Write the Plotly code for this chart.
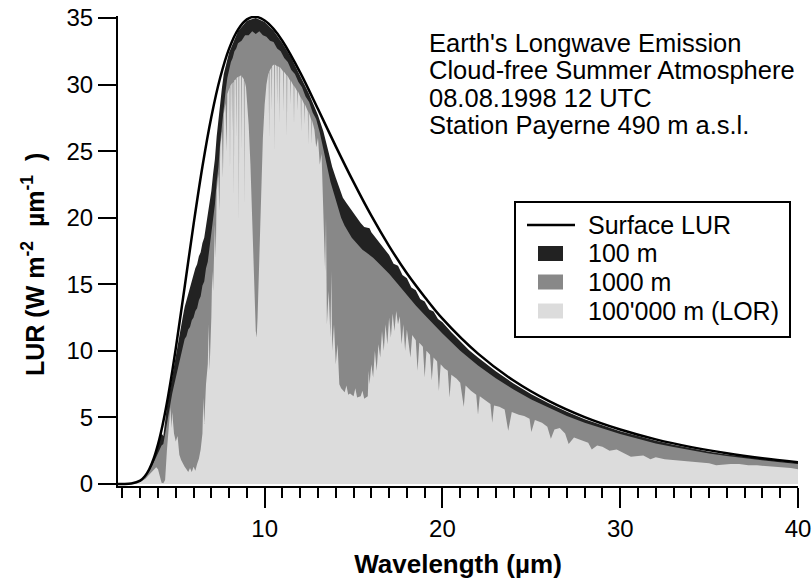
import plotly.graph_objects as go

# Upward longwave radiance spectra (W m-2 um-1) versus wavelength (um)

# Surface emission (smooth)
lur_surface = [
    (1.75, 0.0), (2.0, 0.0), (2.5, 0.03), (3.0, 0.25), (3.25, 0.56), (3.5, 1.09),
    (3.75, 1.88), (4.0, 2.98), (4.25, 4.38), (4.5, 6.08), (4.75, 8.04), (5.0, 10.19),
    (5.5, 14.81), (6.0, 19.5), (6.5, 23.85), (7.0, 27.57), (7.5, 30.53), (8.0, 32.7),
    (8.5, 34.13), (9.0, 34.9), (9.5, 35.09), (10.0, 34.81), (10.5, 34.18), (11.0, 33.27),
    (12.0, 30.9), (13.0, 28.16), (14.0, 25.36), (15.0, 22.67), (16.0, 20.15),
    (17.0, 17.87), (18.0, 15.83), (19.0, 14.05), (20.0, 12.42), (22.0, 9.79),
    (24.0, 7.77), (26.0, 6.22), (28.0, 5.02), (30.0, 4.09), (32.0, 3.35), (34.0, 2.77),
    (36.0, 2.31), (38.0, 1.94), (40.0, 1.64),
]

# Radiance reaching 100 m
lur_100m = [
    (1.75, 0.0), (2.0, 0.0), (2.5, 0.03), (3.0, 0.24), (3.5, 1.05), (3.75, 1.8),
    (4.0, 2.85), (4.2, 3.8), (4.3, 3.6), (4.4, 4.9), (4.5, 5.8), (4.75, 7.7),
    (5.0, 9.7), (5.1, 10.5), (5.2, 11.2), (5.3, 12.0), (5.4, 12.6), (5.5, 13.3),
    (5.6, 13.8), (5.7, 14.1), (5.8, 14.8), (5.9, 15.3), (6.0, 15.7), (6.1, 16.2),
    (6.2, 16.5), (6.3, 17.1), (6.4, 17.4), (6.5, 18.1), (6.6, 18.5), (6.7, 19.4),
    (6.8, 20.1), (6.9, 21.1), (7.0, 22.0), (7.1, 23.3), (7.2, 24.4), (7.3, 26.1),
    (7.4, 27.5), (7.5, 28.9), (7.6, 29.8), (7.7, 30.8), (7.8, 31.4), (7.9, 32.0),
    (8.0, 32.4), (8.5, 34.0), (9.0, 34.8), (9.5, 35.0), (10.0, 34.7), (10.5, 34.05),
    (11.0, 33.1), (11.5, 32.0), (12.0, 30.7), (12.5, 29.3), (13.0, 27.7), (13.3, 26.5),
    (13.6, 24.9), (13.8, 23.8), (14.0, 23.0), (14.2, 22.2), (14.4, 21.5), (14.6, 21.1),
    (14.8, 20.7), (15.0, 20.3), (15.2, 19.95), (15.4, 19.6), (15.6, 19.3), (15.8, 19.25),
    (15.9, 19.2), (16.0, 18.9), (16.3, 18.4), (16.6, 17.9), (17.0, 17.2), (17.25, 16.55),
    (17.5, 16.4), (17.75, 15.7), (18.0, 15.45), (18.25, 14.75), (18.5, 14.55),
    (18.75, 13.9), (19.0, 13.7), (19.25, 13.1), (19.5, 12.95), (19.75, 12.4),
    (20.0, 12.15), (20.5, 11.4), (21.0, 10.75), (21.5, 10.05), (22.0, 9.5), (23.0, 8.47),
    (24.0, 7.55), (25.0, 6.75), (26.0, 6.04), (27.0, 5.42), (28.0, 4.87), (29.0, 4.39),
    (30.0, 3.96), (31.0, 3.6), (32.0, 3.24), (33.0, 2.95), (34.0, 2.67), (35.0, 2.43),
    (36.0, 2.22), (37.0, 2.04), (38.0, 1.87), (39.0, 1.72), (40.0, 1.58),
]

# Radiance reaching 1000 m
lur_1000m = [
    (1.75, 0.0), (2.0, 0.0), (2.5, 0.03), (3.0, 0.22), (3.5, 0.95), (3.75, 1.6),
    (4.0, 2.4), (4.1, 2.6), (4.2, 2.9), (4.3, 3.0), (4.4, 3.8), (4.5, 4.6),
    (4.6, 5.4), (4.7, 6.2), (4.8, 6.8), (4.9, 7.4), (5.0, 8.0), (5.1, 8.5),
    (5.2, 9.1), (5.3, 9.7), (5.4, 10.2), (5.5, 10.9), (5.6, 11.1), (5.7, 11.6),
    (5.8, 11.8), (5.9, 12.3), (6.0, 12.5), (6.1, 13.0), (6.2, 13.2), (6.3, 13.8),
    (6.4, 14.1), (6.5, 14.9), (6.6, 15.2), (6.7, 16.2), (6.8, 16.7), (6.9, 17.8),
    (7.0, 18.5), (7.1, 20.0), (7.2, 21.0), (7.3, 22.7), (7.4, 23.8), (7.5, 25.7),
    (7.6, 27.0), (7.7, 28.6), (7.8, 29.5), (7.9, 30.5), (8.0, 31.1), (8.1, 31.7),
    (8.2, 32.0), (8.3, 32.5), (8.4, 32.7), (8.5, 33.1), (8.7, 33.3), (8.9, 33.7),
    (9.1, 33.7), (9.3, 34.0), (9.5, 33.8), (9.7, 34.0), (9.9, 33.7), (10.1, 33.6),
    (10.3, 33.3), (10.5, 33.2), (10.7, 32.7), (10.9, 32.5), (11.1, 32.0), (11.3, 31.7),
    (11.5, 31.1), (11.7, 30.8), (11.9, 30.2), (12.1, 29.8), (12.3, 29.1), (12.5, 28.7),
    (12.7, 27.9), (12.9, 27.4), (13.1, 26.4), (13.3, 25.2), (13.5, 24.0), (13.7, 22.7),
    (13.9, 21.8), (14.1, 20.8), (14.3, 20.0), (14.5, 19.4), (14.7, 18.9), (14.9, 18.5),
    (15.1, 18.2), (15.3, 17.9), (15.5, 17.6), (15.7, 17.4), (15.9, 17.2), (16.1, 17.0),
    (16.4, 16.6), (16.7, 16.2), (17.0, 15.8), (17.5, 15.0), (18.0, 14.2), (18.5, 13.4),
    (19.0, 12.7), (19.5, 12.0), (20.0, 11.3), (21.0, 10.0), (22.0, 8.9), (23.0, 7.95),
    (24.0, 7.1), (25.0, 6.35), (26.0, 5.7), (27.0, 5.1), (28.0, 4.6), (29.0, 4.15),
    (30.0, 3.75), (31.0, 3.4), (32.0, 3.05), (33.0, 2.78), (34.0, 2.52), (35.0, 2.3),
    (36.0, 2.1), (37.0, 1.93), (38.0, 1.77), (39.0, 1.63), (40.0, 1.5),
]

# Outgoing radiation at 100'000 m (LOR)
lur_lor = [
    (1.75, 0.0), (2.0, 0.0), (2.5, 0.02), (3.0, 0.15), (3.3, 0.4), (3.5, 0.7),
    (3.7, 1.0), (3.9, 1.25), (4.0, 1.1), (4.1, 0.6), (4.2, 0.1), (4.3, 0.05),
    (4.4, 0.3), (4.5, 2.5), (4.6, 4.5), (4.7, 5.8), (4.75, 4.2), (4.8, 5.4),
    (4.9, 3.8), (5.0, 3.2), (5.1, 3.6), (5.2, 2.2), (5.3, 1.8), (5.4, 1.5),
    (5.5, 1.3), (5.6, 1.1), (5.7, 0.9), (5.8, 1.2), (5.9, 0.9), (6.0, 1.3),
    (6.1, 1.0), (6.2, 1.5), (6.3, 1.9), (6.4, 2.6), (6.5, 3.8), (6.55, 6.5),
    (6.6, 4.5), (6.7, 7.5), (6.8, 9.0), (6.85, 12.0), (6.9, 8.5), (7.0, 12.5),
    (7.05, 16.0), (7.1, 14.5), (7.2, 19.5), (7.25, 17.0), (7.3, 22.0), (7.4, 23.3),
    (7.45, 20.5), (7.5, 25.3), (7.6, 26.5), (7.65, 23.0), (7.7, 27.8), (7.8, 28.6),
    (7.85, 25.0), (7.9, 29.3), (8.0, 29.8), (8.03, 29.8), (8.05, 23.5), (8.07, 29.9),
    (8.15, 30.1), (8.17, 26.5), (8.19, 30.1), (8.25, 30.2), (8.27, 21.5), (8.29, 30.3),
    (8.38, 30.4), (8.4, 26.0), (8.42, 30.5), (8.53, 30.6), (8.55, 19.5), (8.57, 30.6),
    (8.68, 30.7), (8.7, 25.0), (8.72, 30.6), (8.83, 30.4), (8.85, 21.0), (8.87, 30.3),
    (8.95, 29.8), (9.0, 29.0), (9.1, 27.0), (9.2, 24.0), (9.3, 20.0), (9.4, 15.0),
    (9.5, 11.5), (9.55, 11.0), (9.6, 12.5), (9.7, 17.0), (9.8, 22.0), (9.9, 26.0),
    (10.0, 28.5), (10.1, 30.0), (10.2, 30.8), (10.23, 30.9), (10.25, 26.0), (10.27, 31.0),
    (10.38, 31.3), (10.4, 28.0), (10.42, 31.4), (10.53, 31.5), (10.55, 25.0), (10.57, 31.5),
    (10.68, 31.4), (10.7, 28.5), (10.72, 31.4), (10.83, 31.3), (10.85, 27.0), (10.87, 31.3),
    (11.03, 31.0), (11.05, 28.0), (11.07, 31.0), (11.23, 30.7), (11.25, 26.0), (11.27, 30.7),
    (11.43, 30.3), (11.45, 28.5), (11.47, 30.3), (11.63, 29.9), (11.65, 27.0), (11.67, 29.9),
    (11.83, 29.5), (11.85, 28.0), (11.87, 29.5), (12.03, 29.0), (12.05, 26.5), (12.07, 29.0),
    (12.23, 28.5), (12.25, 27.0), (12.27, 28.5), (12.43, 28.0), (12.45, 25.5), (12.47, 28.0),
    (12.63, 27.3), (12.65, 25.5), (12.67, 27.3), (12.8, 26.6), (12.9, 25.3), (13.0, 26.0),
    (13.1, 24.0), (13.2, 24.8), (13.3, 21.0), (13.4, 16.0), (13.45, 20.0), (13.5, 12.0),
    (13.6, 14.5), (13.7, 11.0), (13.75, 16.0), (13.8, 10.0), (13.9, 12.0), (14.0, 9.0),
    (14.1, 10.5), (14.2, 7.5), (14.3, 7.2), (14.5, 6.9), (14.6, 7.4), (14.7, 6.7),
    (14.8, 6.8), (15.0, 6.6), (15.1, 7.2), (15.2, 6.5), (15.4, 6.6), (15.5, 7.0),
    (15.6, 6.4), (15.8, 6.6), (15.85, 8.5), (15.9, 7.5), (16.0, 9.0), (16.1, 8.0),
    (16.2, 10.0), (16.3, 8.5), (16.4, 10.5), (16.5, 9.5), (16.6, 11.5), (16.7, 10.0),
    (16.8, 12.0), (16.9, 10.5), (17.0, 12.5), (17.1, 11.0), (17.2, 12.8), (17.3, 11.5),
    (17.4, 13.0), (17.5, 12.0), (17.6, 12.6), (17.7, 10.5), (17.8, 12.0), (17.9, 10.0),
    (18.0, 11.6), (18.2, 9.5), (18.3, 11.2), (18.5, 10.8), (18.6, 8.5), (18.7, 10.6),
    (18.9, 10.3), (19.0, 8.0), (19.1, 10.0), (19.3, 9.7), (19.4, 7.8), (19.5, 9.5),
    (19.7, 9.2), (19.8, 7.0), (19.9, 9.0), (20.1, 8.7), (20.3, 8.5), (20.4, 6.5),
    (20.5, 8.2), (20.8, 7.9), (21.0, 7.6), (21.2, 5.8), (21.3, 7.4), (21.6, 7.0),
    (21.9, 6.7), (22.0, 5.2), (22.1, 6.6), (22.4, 6.3), (22.7, 6.0), (22.8, 4.6),
    (22.9, 5.9), (23.2, 5.8), (23.5, 5.6), (23.7, 4.0), (23.9, 5.4), (24.3, 5.2),
    (24.6, 5.1), (24.9, 4.9), (25.0, 3.9), (25.2, 4.8), (25.6, 4.6), (25.9, 4.3),
    (26.1, 3.4), (26.3, 4.1), (26.6, 4.2), (26.9, 3.8), (27.1, 3.0), (27.4, 3.5),
    (27.8, 3.3), (28.2, 3.1), (28.4, 2.6), (28.7, 2.9), (29.0, 2.8), (29.4, 2.5),
    (29.8, 2.6), (30.2, 2.3), (30.6, 2.05), (31.0, 2.1), (31.3, 2.15), (31.7, 1.85),
    (32.0, 2.0), (32.5, 1.85), (33.0, 1.8), (33.5, 1.75), (34.0, 1.7), (34.5, 1.65),
    (35.0, 1.55), (35.4, 1.4), (35.8, 1.45), (36.2, 1.5), (36.7, 1.5), (37.2, 1.4),
    (37.7, 1.4), (38.2, 1.35), (38.7, 1.3), (39.2, 1.25), (39.6, 1.2), (40.0, 1.1),
]

info_lines = [
    "Earth's Longwave Emission",
    "Cloud-free Summer Atmosphere",
    "08.08.1998 12 UTC",
    "Station Payerne 490 m a.s.l.",
]

FONT = "Liberation Sans, Arial, Helvetica, sans-serif"
C_100 = "#222222"
C_1000 = "#888888"
C_LOR = "#dcdcdc"
NB = "\u00a0"

# plot-area geometry in pixels (used to place the hand-built legend)
W, H = 812, 584
ML, MR, MT, MB = 118, 14, 16, 98
PW, PH = W - ML - MR, H - MT - MB


def px(x):
    return (x - ML) / PW


def py(y):
    return (MT + PH - y) / PH


fig = go.Figure()

layers = [
    (lur_100m, C_100, "100 m"),
    (lur_1000m, C_1000, "1000 m"),
    (lur_lor, C_LOR, "100'000 m (LOR)"),
]
for data, color, name in layers:
    wl, val = zip(*data)
    fig.add_trace(go.Scatter(
        x=wl, y=val, mode="lines", line=dict(width=0, color=color), name=name,
        fill="tozeroy", fillcolor=color, showlegend=False, hoverinfo="skip",
    ))

wl_s, val_s = zip(*lur_surface)
fig.add_trace(go.Scatter(
    x=wl_s, y=val_s, mode="lines", name="Surface LUR", showlegend=False,
    line=dict(color="black", width=2.5, shape="spline"),
))

# descriptive text block
for i, txt in enumerate(info_lines):
    fig.add_annotation(
        x=px(427), y=py(43 + i * 27.5), xref="paper", yref="paper",
        xanchor="left", yanchor="middle", showarrow=False, align="left",
        text=txt, font=dict(family=FONT, size=25.5, color="black"),
    )

# legend box
shapes = [dict(type="rect", xref="paper", yref="paper", layer="above",
               x0=px(515), x1=px(790), y0=py(337), y1=py(202),
               line=dict(color="black", width=2), fillcolor="white")]
row_y = [225, 253.5, 282, 311]
shapes.append(dict(type="line", xref="paper", yref="paper", layer="above",
                   x0=px(527), x1=px(575), y0=py(row_y[0]), y1=py(row_y[0]),
                   line=dict(color="black", width=2.5)))
for (_, color, _), ry in zip(layers, row_y[1:]):
    shapes.append(dict(type="rect", xref="paper", yref="paper", layer="above",
                       x0=px(538), x1=px(563), y0=py(ry + 7.5), y1=py(ry - 7.5),
                       line=dict(width=0), fillcolor=color))
legend_names = ["Surface LUR"] + [name for _, _, name in layers]
for name, ry in zip(legend_names, row_y):
    fig.add_annotation(
        x=px(586), y=py(ry), xref="paper", yref="paper", xanchor="left",
        yanchor="middle", showarrow=False, text=name,
        font=dict(family=FONT, size=25, color="black"),
    )

# y-axis title
fig.add_annotation(
    x=px(33), y=py(265), xref="paper", yref="paper", xanchor="center",
    yanchor="middle", showarrow=False, textangle=-90,
    text="<b>LUR (W m<sup>-2</sup>" + NB * 2 + "µm<sup>-1</sup>" + NB * 2 + ")</b>",
    font=dict(family=FONT, size=25, color="black"),
)

fig.update_layout(
    width=W, height=H,
    margin=dict(l=ML, r=MR, t=MT, b=MB),
    paper_bgcolor="white", plot_bgcolor="white",
    font=dict(family=FONT, size=24, color="black"),
    showlegend=False,
    shapes=shapes,
    xaxis=dict(
        range=[1.75, 40], showgrid=False, zeroline=False, automargin=False,
        showline=True, linecolor="black", linewidth=2,
        ticks="outside", tick0=0, dtick=10, ticklen=20, tickwidth=2, tickcolor="black",
        minor=dict(dtick=1, tick0=0, ticks="outside", ticklen=10, tickwidth=2,
                   tickcolor="black", showgrid=False),
        tickfont=dict(family=FONT, size=24),
        title=dict(text="<b>Wavelength (µm)</b>", font=dict(family=FONT, size=26), standoff=14),
    ),
    yaxis=dict(
        range=[-0.15, 35.15], showgrid=False, zeroline=False, automargin=False,
        showline=True, linecolor="black", linewidth=2,
        ticks="outside", tick0=0, dtick=5, ticklen=18, tickwidth=2, tickcolor="black",
        tickfont=dict(family=FONT, size=24),
    ),
)

fig.write_html("out.html")
